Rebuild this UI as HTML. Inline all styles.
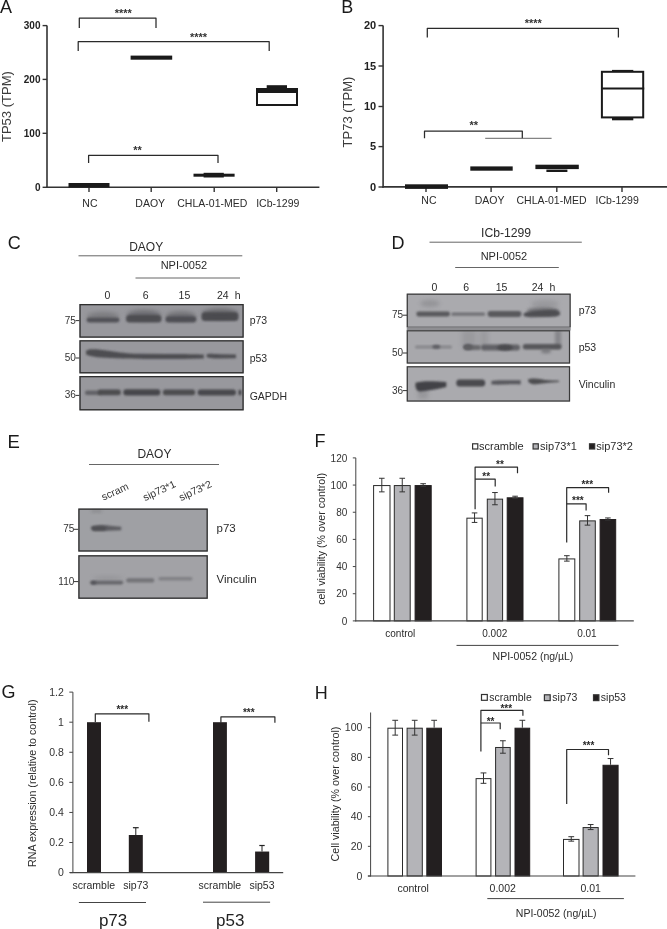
<!DOCTYPE html>
<html><head><meta charset="utf-8"><style>
html,body{margin:0;padding:0;background:#fff;}
body{width:667px;height:929px;overflow:hidden;}
svg{display:block;font-family:"Liberation Sans",sans-serif;will-change:transform;}
</style></head><body>
<svg width="667" height="929" viewBox="0 0 667 929">
<defs><filter id="b0p8" x="-50%" y="-50%" width="200%" height="200%"><feGaussianBlur stdDeviation="0.8"/></filter><filter id="b1p0" x="-50%" y="-50%" width="200%" height="200%"><feGaussianBlur stdDeviation="1.0"/></filter><filter id="b1p1" x="-50%" y="-50%" width="200%" height="200%"><feGaussianBlur stdDeviation="1.1"/></filter><filter id="b1p2" x="-50%" y="-50%" width="200%" height="200%"><feGaussianBlur stdDeviation="1.2"/></filter><filter id="b1p3" x="-50%" y="-50%" width="200%" height="200%"><feGaussianBlur stdDeviation="1.3"/></filter><filter id="b1p5" x="-50%" y="-50%" width="200%" height="200%"><feGaussianBlur stdDeviation="1.5"/></filter><filter id="b1p8" x="-50%" y="-50%" width="200%" height="200%"><feGaussianBlur stdDeviation="1.8"/></filter><filter id="b2" x="-50%" y="-50%" width="200%" height="200%"><feGaussianBlur stdDeviation="2"/></filter><filter id="b2p5" x="-50%" y="-50%" width="200%" height="200%"><feGaussianBlur stdDeviation="2.5"/></filter><filter id="b3" x="-50%" y="-50%" width="200%" height="200%"><feGaussianBlur stdDeviation="3"/></filter><clipPath id="cC1"><rect x="79.4" y="304" width="164.29999999999998" height="33.69999999999999"/></clipPath><clipPath id="cC2"><rect x="79.4" y="340.2" width="164.29999999999998" height="33.19999999999999"/></clipPath><clipPath id="cC3"><rect x="79.4" y="376" width="164.29999999999998" height="34.39999999999998"/></clipPath><clipPath id="cD1"><rect x="406.7" y="293.6" width="164.00000000000006" height="33.599999999999966"/></clipPath><clipPath id="cD2"><rect x="406.7" y="330.2" width="163.40000000000003" height="33.400000000000034"/></clipPath><clipPath id="cD3"><rect x="406.7" y="366.2" width="163.40000000000003" height="35.400000000000034"/></clipPath><clipPath id="cE1"><rect x="78.3" y="508.5" width="129.5" height="43.10000000000002"/></clipPath><clipPath id="cE2"><rect x="78.3" y="555.2" width="129.5" height="43.59999999999991"/></clipPath></defs>
<rect width="667" height="929" fill="#fff"/>
<text x="0" y="12.8" font-size="18" text-anchor="start" font-weight="normal" fill="#1a1a1a" >A</text>
<line x1="47" y1="25.6" x2="47" y2="188" stroke="#333" stroke-width="1.6"/>
<line x1="42.6" y1="25.6" x2="47" y2="25.6" stroke="#333" stroke-width="1.4"/>
<text x="40.5" y="29.200000000000003" font-size="10" text-anchor="end" font-weight="bold" fill="#222" >300</text>
<line x1="42.6" y1="79.4" x2="47" y2="79.4" stroke="#333" stroke-width="1.4"/>
<text x="40.5" y="83.0" font-size="10" text-anchor="end" font-weight="bold" fill="#222" >200</text>
<line x1="42.6" y1="133.3" x2="47" y2="133.3" stroke="#333" stroke-width="1.4"/>
<text x="40.5" y="136.9" font-size="10" text-anchor="end" font-weight="bold" fill="#222" >100</text>
<line x1="42.6" y1="187.3" x2="47" y2="187.3" stroke="#333" stroke-width="1.4"/>
<text x="40.5" y="190.9" font-size="10" text-anchor="end" font-weight="bold" fill="#222" >0</text>
<line x1="46.2" y1="187.3" x2="319.4" y2="187.3" stroke="#333" stroke-width="1.6"/>
<line x1="89" y1="187.3" x2="89" y2="192" stroke="#333" stroke-width="1.4"/>
<line x1="151.2" y1="187.3" x2="151.2" y2="192" stroke="#333" stroke-width="1.4"/>
<line x1="214.2" y1="187.3" x2="214.2" y2="192" stroke="#333" stroke-width="1.4"/>
<line x1="276.7" y1="187.3" x2="276.7" y2="192" stroke="#333" stroke-width="1.4"/>
<text x="89.95" y="206.7" font-size="10.5" text-anchor="middle" font-weight="normal" fill="#2b2b2b" >NC</text>
<text x="150.2" y="206.7" font-size="10.5" text-anchor="middle" font-weight="normal" fill="#2b2b2b" >DAOY</text>
<text x="212.3" y="206.7" font-size="10.5" text-anchor="middle" font-weight="normal" fill="#2b2b2b" >CHLA-01-MED</text>
<text x="277.8" y="206.7" font-size="10.5" text-anchor="middle" font-weight="normal" fill="#2b2b2b" >ICb-1299</text>
<rect x="68.5" y="183" width="41.0" height="4.5" fill="#1a1a1a" stroke="none" stroke-width="0" />
<rect x="130.6" y="55.6" width="41.599999999999994" height="4.100000000000001" fill="#1a1a1a" stroke="none" stroke-width="0" />
<rect x="193.5" y="173.7" width="41.099999999999994" height="3.0" fill="#1a1a1a" stroke="none" stroke-width="0" />
<rect x="203.6" y="172.8" width="20.200000000000017" height="4.699999999999989" fill="#1a1a1a" stroke="none" stroke-width="0" />
<rect x="266.7" y="85.2" width="20.30000000000001" height="3.299999999999997" fill="#1a1a1a" stroke="none" stroke-width="0" />
<rect x="257" y="89" width="40" height="16" fill="none" stroke="#1a1a1a" stroke-width="2" />
<rect x="256" y="88" width="42" height="5" fill="#1a1a1a" stroke="none" stroke-width="0" />
<path d="M79.3 28 L79.3 18.2 L156 18.2 L156 28" fill="none" stroke="#2a2a2a" stroke-width="1.25" stroke-linejoin="round"/>
<text x="123.3" y="17.28" font-size="11" text-anchor="middle" font-weight="bold" fill="#333" >****</text>
<path d="M78.2 51 L78.2 41.7 L269.2 41.7 L269.2 51" fill="none" stroke="#2a2a2a" stroke-width="1.25" stroke-linejoin="round"/>
<text x="198.5" y="40.88" font-size="11" text-anchor="middle" font-weight="bold" fill="#333" >****</text>
<path d="M88.6 163 L88.6 155.3 L218 155.3 L218 163" fill="none" stroke="#2a2a2a" stroke-width="1.25" stroke-linejoin="round"/>
<text x="137.5" y="154.48" font-size="11" text-anchor="middle" font-weight="bold" fill="#333" >**</text>
<text x="0" y="0" font-size="13" text-anchor="middle" fill="#3c3c3c" transform="translate(10.8,106.6) rotate(-90)">TP53 (TPM)</text>
<text x="341.2" y="12.8" font-size="18" text-anchor="start" font-weight="normal" fill="#1a1a1a" >B</text>
<line x1="383.1" y1="25.6" x2="383.1" y2="187.8" stroke="#333" stroke-width="1.6"/>
<line x1="378.5" y1="25.6" x2="383.1" y2="25.6" stroke="#333" stroke-width="1.4"/>
<text x="376.2" y="29.400000000000002" font-size="11" text-anchor="end" font-weight="bold" fill="#222" >20</text>
<line x1="378.5" y1="66" x2="383.1" y2="66" stroke="#333" stroke-width="1.4"/>
<text x="376.2" y="69.8" font-size="11" text-anchor="end" font-weight="bold" fill="#222" >15</text>
<line x1="378.5" y1="106.5" x2="383.1" y2="106.5" stroke="#333" stroke-width="1.4"/>
<text x="376.2" y="110.3" font-size="11" text-anchor="end" font-weight="bold" fill="#222" >10</text>
<line x1="378.5" y1="146.6" x2="383.1" y2="146.6" stroke="#333" stroke-width="1.4"/>
<text x="376.2" y="150.4" font-size="11" text-anchor="end" font-weight="bold" fill="#222" >5</text>
<line x1="378.5" y1="187" x2="383.1" y2="187" stroke="#333" stroke-width="1.4"/>
<text x="376.2" y="190.8" font-size="11" text-anchor="end" font-weight="bold" fill="#222" >0</text>
<line x1="382.3" y1="186.9" x2="667" y2="186.9" stroke="#333" stroke-width="1.6"/>
<line x1="426" y1="186.9" x2="426" y2="192" stroke="#333" stroke-width="1.4"/>
<line x1="491.1" y1="186.9" x2="491.1" y2="192" stroke="#333" stroke-width="1.4"/>
<line x1="556.8" y1="186.9" x2="556.8" y2="192" stroke="#333" stroke-width="1.4"/>
<line x1="622" y1="186.9" x2="622" y2="192" stroke="#333" stroke-width="1.4"/>
<text x="428.95" y="203.7" font-size="10.5" text-anchor="middle" font-weight="normal" fill="#2b2b2b" >NC</text>
<text x="489.65" y="203.7" font-size="10.5" text-anchor="middle" font-weight="normal" fill="#2b2b2b" >DAOY</text>
<text x="551.5" y="203.7" font-size="10.5" text-anchor="middle" font-weight="normal" fill="#2b2b2b" >CHLA-01-MED</text>
<text x="617.2" y="203.7" font-size="10.5" text-anchor="middle" font-weight="normal" fill="#2b2b2b" >ICb-1299</text>
<rect x="405" y="184.3" width="43" height="4.599999999999994" fill="#1a1a1a" stroke="none" stroke-width="0" />
<rect x="470.3" y="166.4" width="42.400000000000034" height="4.299999999999983" fill="#1a1a1a" stroke="none" stroke-width="0" />
<rect x="535.4" y="164.7" width="43.39999999999998" height="4.400000000000006" fill="#1a1a1a" stroke="none" stroke-width="0" />
<rect x="546.4" y="169.6" width="21.0" height="2.4000000000000057" fill="#1a1a1a" stroke="none" stroke-width="0" />
<rect x="601.9" y="71.8" width="41.30000000000007" height="45.60000000000001" fill="none" stroke="#1a1a1a" stroke-width="2" />
<line x1="601" y1="88.5" x2="644.2" y2="88.5" stroke="#1a1a1a" stroke-width="2"/>
<rect x="612" y="69.9" width="21.299999999999955" height="2.0999999999999943" fill="#1a1a1a" stroke="none" stroke-width="0" />
<rect x="612" y="118" width="21.299999999999955" height="2.299999999999997" fill="#1a1a1a" stroke="none" stroke-width="0" />
<path d="M427.3 37.6 L427.3 28.3 L618.4 28.3 L618.4 37.6" fill="none" stroke="#2a2a2a" stroke-width="1.25" stroke-linejoin="round"/>
<text x="533.2" y="26.78" font-size="11" text-anchor="middle" font-weight="bold" fill="#333" >****</text>
<path d="M424.5 138.3 L424.5 131.1 L522.3 131.1 L522.3 138.3" fill="none" stroke="#2a2a2a" stroke-width="1.25" stroke-linejoin="round"/>
<text x="473.8" y="129.38" font-size="11" text-anchor="middle" font-weight="bold" fill="#333" >**</text>
<line x1="485.2" y1="138.3" x2="551.6" y2="138.3" stroke="#555" stroke-width="0.9"/>
<text x="0" y="0" font-size="13" text-anchor="middle" fill="#3c3c3c" transform="translate(352.3,112) rotate(-90)">TP73 (TPM)</text>
<text x="7.8" y="249.3" font-size="18" text-anchor="start" font-weight="normal" fill="#1a1a1a" >C</text>
<text x="146.2" y="250.6" font-size="12" text-anchor="middle" font-weight="normal" fill="#2b2b2b" >DAOY</text>
<line x1="78.5" y1="255.8" x2="242.3" y2="255.8" stroke="#666" stroke-width="1"/>
<text x="183.9" y="269.1" font-size="11" text-anchor="middle" font-weight="normal" fill="#2b2b2b" >NPI-0052</text>
<line x1="135.5" y1="278" x2="240" y2="278" stroke="#666" stroke-width="1"/>
<text x="107.4" y="299" font-size="10.5" text-anchor="middle" font-weight="normal" fill="#2b2b2b" >0</text>
<text x="145.6" y="299" font-size="10.5" text-anchor="middle" font-weight="normal" fill="#2b2b2b" >6</text>
<text x="184.4" y="299" font-size="10.5" text-anchor="middle" font-weight="normal" fill="#2b2b2b" >15</text>
<text x="222.8" y="299" font-size="10.5" text-anchor="middle" font-weight="normal" fill="#2b2b2b" >24</text>
<text x="237.6" y="299" font-size="10.5" text-anchor="middle" font-weight="normal" fill="#2b2b2b" >h</text>
<rect x="79.4" y="304" width="164.29999999999998" height="33.69999999999999" fill="#98989d" stroke="none" stroke-width="0" />
<g clip-path="url(#cC1)">
<ellipse cx="103" cy="316" rx="16" ry="4" fill="#747478" opacity="0.8" filter="url(#b2)"/>
<rect x="86.5" y="317.6" width="33.0" height="4.7999999999999545" rx="2.5" fill="#505054" opacity="0.95" filter="url(#b1p2)"/>
<ellipse cx="144" cy="315" rx="17" ry="5" fill="#66666a" opacity="0.85" filter="url(#b2)"/>
<rect x="126" y="315" width="35.5" height="7.399999999999977" rx="3.5" fill="#4c4c50" opacity="0.95" filter="url(#b1p3)"/>
<ellipse cx="181" cy="316" rx="15" ry="4.5" fill="#6a6a6e" opacity="0.85" filter="url(#b2)"/>
<rect x="165.5" y="316.3" width="30.80000000000001" height="6.099999999999966" rx="3" fill="#4e4e52" opacity="0.95" filter="url(#b1p2)"/>
<ellipse cx="220" cy="313.5" rx="18" ry="5" fill="#626266" opacity="0.85" filter="url(#b2)"/>
<rect x="201.5" y="312.3" width="36.900000000000006" height="8.699999999999989" rx="3.5" fill="#4a4a4e" opacity="0.95" filter="url(#b1p3)"/>
</g>
<rect x="80.05000000000001" y="304.65" width="162.99999999999997" height="32.39999999999999" fill="none" stroke="#2e2e2e" stroke-width="1.3"/>
<rect x="79.4" y="340.2" width="164.29999999999998" height="33.19999999999999" fill="#98989d" stroke="none" stroke-width="0" />
<g clip-path="url(#cC2)">
<path d="M86 351 C88 348.5 96 349 110 351 C120 352.5 126 353.5 140 353.8 L170 354 C185 354 195 354.2 203.8 354.6 L203.8 358.4 C190 358.8 175 359 160 359 C140 359 120 358.6 105 357.8 C94 357 87 356 86 354 Z" fill="#4a4a4e" opacity="0.95" filter="url(#b1p0)"/>
<path d="M206.5 355 C207 353 212 353.8 220 354.2 L236 354.6 L236 358.3 L220 358.6 C212 358.6 207 358 206.5 356.5 Z" fill="#4c4c50" opacity="0.95" filter="url(#b1p0)"/>
</g>
<rect x="80.05000000000001" y="340.84999999999997" width="162.99999999999997" height="31.899999999999988" fill="none" stroke="#2e2e2e" stroke-width="1.3"/>
<rect x="79.4" y="376" width="164.29999999999998" height="34.39999999999998" fill="#98989d" stroke="none" stroke-width="0" />
<g clip-path="url(#cC3)">
<rect x="85" y="390.5" width="16" height="4.5" rx="2" fill="#5c5c60" opacity="0.9" filter="url(#b1p0)"/>
<rect x="98" y="389.6" width="22.799999999999997" height="5.699999999999989" rx="2.5" fill="#48484c" opacity="0.95" filter="url(#b1p0)"/>
<rect x="123.3" y="389.2" width="37.10000000000001" height="6.400000000000034" rx="3" fill="#424246" opacity="0.95" filter="url(#b1p0)"/>
<rect x="162.9" y="389.6" width="32.19999999999999" height="5.699999999999989" rx="2.5" fill="#48484c" opacity="0.95" filter="url(#b1p0)"/>
<rect x="197.6" y="389.4" width="38.400000000000006" height="6.0" rx="3" fill="#444448" opacity="0.95" filter="url(#b1p0)"/>
<ellipse cx="240" cy="392.5" rx="1.5" ry="3" fill="#38383c" opacity="0.9" filter="url(#b0p8)"/>
</g>
<rect x="80.05000000000001" y="376.65" width="162.99999999999997" height="33.09999999999998" fill="none" stroke="#2e2e2e" stroke-width="1.3"/>
<line x1="75.5" y1="320.6" x2="79.4" y2="320.6" stroke="#333" stroke-width="1"/>
<text x="75.8" y="323.6" font-size="10" text-anchor="end" font-weight="normal" fill="#333" >75</text>
<line x1="75.5" y1="358" x2="79.4" y2="358" stroke="#333" stroke-width="1"/>
<text x="75.8" y="361.0" font-size="10" text-anchor="end" font-weight="normal" fill="#333" >50</text>
<line x1="75.5" y1="395.4" x2="79.4" y2="395.4" stroke="#333" stroke-width="1"/>
<text x="75.8" y="398.4" font-size="10" text-anchor="end" font-weight="normal" fill="#333" >36</text>
<text x="249.7" y="324" font-size="10.5" text-anchor="start" font-weight="normal" fill="#2b2b2b" >p73</text>
<text x="249.7" y="362" font-size="10.5" text-anchor="start" font-weight="normal" fill="#2b2b2b" >p53</text>
<text x="249.7" y="400.3" font-size="10.5" text-anchor="start" font-weight="normal" fill="#2b2b2b" >GAPDH</text>
<text x="391.4" y="249.3" font-size="18" text-anchor="start" font-weight="normal" fill="#1a1a1a" >D</text>
<text x="506.1" y="236.5" font-size="12.2" text-anchor="middle" font-weight="normal" fill="#2b2b2b" >ICb-1299</text>
<line x1="429.5" y1="242.2" x2="581.8" y2="242.2" stroke="#666" stroke-width="1"/>
<text x="503.9" y="260.3" font-size="11" text-anchor="middle" font-weight="normal" fill="#2b2b2b" >NPI-0052</text>
<line x1="455.2" y1="267.5" x2="558.8" y2="267.5" stroke="#666" stroke-width="1"/>
<text x="434.3" y="291" font-size="10.5" text-anchor="middle" font-weight="normal" fill="#2b2b2b" >0</text>
<text x="466.2" y="291" font-size="10.5" text-anchor="middle" font-weight="normal" fill="#2b2b2b" >6</text>
<text x="501.5" y="291" font-size="10.5" text-anchor="middle" font-weight="normal" fill="#2b2b2b" >15</text>
<text x="537.5" y="291" font-size="10.5" text-anchor="middle" font-weight="normal" fill="#2b2b2b" >24</text>
<text x="552.4" y="291" font-size="10.5" text-anchor="middle" font-weight="normal" fill="#2b2b2b" >h</text>
<rect x="406.7" y="326.8" width="164.00000000000006" height="3.6999999999999886" fill="#8e8e92" stroke="none" stroke-width="0" />
<rect x="406.7" y="293.6" width="164.00000000000006" height="33.599999999999966" fill="#aaaaae" stroke="none" stroke-width="0" />
<g clip-path="url(#cD1)">
<ellipse cx="430" cy="303.5" rx="10" ry="3.5" fill="#8e8e92" opacity="0.8" filter="url(#b2)"/>
<ellipse cx="545" cy="304" rx="14" ry="4" fill="#929296" opacity="0.7" filter="url(#b2)"/>
<rect x="416.3" y="311.6" width="33.69999999999999" height="4.7999999999999545" rx="2.3" fill="#545458" opacity="0.95" filter="url(#b1p0)"/>
<rect x="451.3" y="312.6" width="33.80000000000001" height="3.099999999999966" rx="1.5" fill="#6a6a6e" opacity="0.9" filter="url(#b1p0)"/>
<rect x="487.6" y="311" width="33.799999999999955" height="5.899999999999977" rx="2.8" fill="#555559" opacity="0.95" filter="url(#b1p0)"/>
<ellipse cx="543" cy="310.5" rx="16" ry="3.5" fill="#6e6e72" opacity="0.8" filter="url(#b1p8)"/>
<path d="M523.5 314 C524 311.5 535 310.5 545 310 C553 309.5 559 310 560 312.5 C561 315.5 558 316.8 550 317 L530 317.2 C525 317 523 316 523.5 314 Z" fill="#4c4c50" opacity="0.95" filter="url(#b1p1)"/>
</g>
<rect x="407.3" y="294.20000000000005" width="162.80000000000007" height="32.39999999999996" fill="none" stroke="#3a3a3a" stroke-width="1.2"/>
<line x1="407.9" y1="326.6" x2="569.5" y2="326.6" stroke="#88888c" stroke-width="1.2"/>
<rect x="406.7" y="330.2" width="163.40000000000003" height="33.400000000000034" fill="#a8a8ac" stroke="none" stroke-width="0" />
<g clip-path="url(#cD2)">
<rect x="462" y="330" width="14" height="18" rx="2" fill="#949498" opacity="0.7" filter="url(#b2)"/>
<rect x="480" y="330" width="8" height="18" rx="2" fill="#929296" opacity="0.6" filter="url(#b2)"/>
<rect x="555" y="330" width="6" height="18" rx="2" fill="#7e7e82" opacity="0.8" filter="url(#b1p5)"/>
<rect x="415" y="345.5" width="37" height="3.0" rx="1.5" fill="#7e7e82" opacity="0.8" filter="url(#b1p0)"/>
<ellipse cx="436.3" cy="346.8" rx="4" ry="2" fill="#5a5a5e" opacity="0.9" filter="url(#b1p0)"/>
<ellipse cx="468" cy="347" rx="5" ry="3" fill="#525256" opacity="0.9" filter="url(#b1p2)"/>
<rect x="464" y="345" width="17" height="5" rx="2.5" fill="#606064" opacity="0.85" filter="url(#b1p1)"/>
<rect x="481" y="344.5" width="39" height="6.0" rx="3" fill="#5a5a5e" opacity="0.9" filter="url(#b1p1)"/>
<ellipse cx="505" cy="347.5" rx="8" ry="3" fill="#4a4a4e" opacity="0.95" filter="url(#b1p2)"/>
<rect x="522.7" y="344" width="38.799999999999955" height="5.5" rx="3" fill="#525256" opacity="0.95" filter="url(#b1p1)"/>
<ellipse cx="546" cy="351" rx="5" ry="2.5" fill="#6a6a6e" opacity="0.7" filter="url(#b1p5)"/>
</g>
<rect x="407.3" y="330.8" width="162.20000000000005" height="32.20000000000003" fill="none" stroke="#3a3a3a" stroke-width="1.2"/>
<rect x="406.7" y="366.2" width="163.40000000000003" height="35.400000000000034" fill="#aaaaae" stroke="none" stroke-width="0" />
<g clip-path="url(#cD3)">
<rect x="418" y="388" width="10" height="11" rx="3" fill="#8e8e92" opacity="0.7" filter="url(#b2)"/>
<path d="M415.5 383 C420 380.5 435 381 446.3 382 L446.3 387 C438 389 428 390.5 420 391.5 C416 391 415 387 415.5 383 Z" fill="#3e3e42" opacity="0.95" filter="url(#b1p1)"/>
<rect x="456.3" y="379.5" width="28.80000000000001" height="7.0" rx="3" fill="#444448" opacity="0.95" filter="url(#b1p1)"/>
<path d="M491.4 381 C500 380 510 380.5 520.7 380.3 L520.7 384.5 C510 384 500 385 491.4 384.5 Z" fill="#505054" opacity="0.9" filter="url(#b1p0)"/>
<path d="M528 379.5 C532 377.5 540 378.5 545 380 C550 380.5 556 380.5 559 380.8 L559 382 C552 382.5 545 383 538 384 C532 385 528 383.5 528 379.5 Z" fill="#48484c" opacity="0.95" filter="url(#b1p0)"/>
</g>
<rect x="407.3" y="366.8" width="162.20000000000005" height="34.20000000000003" fill="none" stroke="#3a3a3a" stroke-width="1.2"/>
<line x1="402.8" y1="315.2" x2="407" y2="315.2" stroke="#333" stroke-width="1"/>
<text x="403.1" y="318.2" font-size="10" text-anchor="end" font-weight="normal" fill="#333" >75</text>
<line x1="402.8" y1="353" x2="407" y2="353" stroke="#333" stroke-width="1"/>
<text x="403.1" y="356.0" font-size="10" text-anchor="end" font-weight="normal" fill="#333" >50</text>
<line x1="402.8" y1="390.6" x2="407" y2="390.6" stroke="#333" stroke-width="1"/>
<text x="403.1" y="393.6" font-size="10" text-anchor="end" font-weight="normal" fill="#333" >36</text>
<text x="578.7" y="313.5" font-size="10.5" text-anchor="start" font-weight="normal" fill="#2b2b2b" >p73</text>
<text x="578.7" y="351.3" font-size="10.5" text-anchor="start" font-weight="normal" fill="#2b2b2b" >p53</text>
<text x="578.7" y="388.2" font-size="10.5" text-anchor="start" font-weight="normal" fill="#2b2b2b" >Vinculin</text>
<text x="7.6" y="447.6" font-size="18.5" text-anchor="start" font-weight="normal" fill="#1a1a1a" >E</text>
<text x="154.4" y="457.6" font-size="12" text-anchor="middle" font-weight="normal" fill="#2b2b2b" >DAOY</text>
<line x1="89" y1="464.5" x2="219" y2="464.5" stroke="#666" stroke-width="1"/>
<text x="0" y="0" font-size="10.4" fill="#333" transform="translate(103.6,500.8) rotate(-25)">scram</text>
<text x="0" y="0" font-size="10.4" fill="#333" transform="translate(145,501.2) rotate(-25)">sip73*1</text>
<text x="0" y="0" font-size="10.4" fill="#333" transform="translate(181,501.2) rotate(-25)">sip73*2</text>
<rect x="78.3" y="508.5" width="129.5" height="43.10000000000002" fill="#9fa0a4" stroke="none" stroke-width="0" />
<g clip-path="url(#cE1)">
<rect x="91" y="509" width="11" height="4" rx="2" fill="#86868a" opacity="0.6" filter="url(#b1p5)"/>
<path d="M91 527 C93 525.5 98 525 103 525 C108 525.3 112 526.2 121.2 526.7 L121.2 530.3 C112 530.6 105 531 96 531.1 C92 531 91 529 91 527 Z" fill="#5a5a5e" opacity="0.95" filter="url(#b1p0)"/>
<rect x="91.5" y="526.2" width="14.5" height="4.599999999999909" rx="2.3" fill="#444448" opacity="0.55" filter="url(#b1p0)"/>
</g>
<rect x="78.95" y="509.15" width="128.2" height="41.800000000000026" fill="none" stroke="#2e2e2e" stroke-width="1.3"/>
<rect x="78.3" y="555.2" width="129.5" height="43.59999999999991" fill="#a2a2a6" stroke="none" stroke-width="0" />
<g clip-path="url(#cE2)">
<ellipse cx="108" cy="578.5" rx="15" ry="2.5" fill="#8e8e92" opacity="0.6" filter="url(#b2)"/>
<rect x="90.5" y="580.8" width="32.7" height="3.6000000000000227" rx="1.8" fill="#646468" opacity="0.95" filter="url(#b1p0)"/>
<rect x="90.5" y="581" width="6.0" height="3.3999999999999773" rx="1.8" fill="#4e4e52" opacity="0.75" filter="url(#b1p0)"/>
<rect x="126.2" y="578.3" width="28.10000000000001" height="4.100000000000023" rx="2.0" fill="#6e6e72" opacity="0.9" filter="url(#b1p0)"/>
<rect x="158.4" y="577" width="34.099999999999994" height="3.3999999999999773" rx="1.7" fill="#7e7e82" opacity="0.9" filter="url(#b1p1)"/>
</g>
<rect x="78.95" y="555.85" width="128.2" height="42.29999999999991" fill="none" stroke="#2e2e2e" stroke-width="1.3"/>
<line x1="74" y1="529.3" x2="78.3" y2="529.3" stroke="#333" stroke-width="1"/>
<text x="74.3" y="532.3" font-size="10" text-anchor="end" font-weight="normal" fill="#333" >75</text>
<line x1="74" y1="581.6" x2="78.3" y2="581.6" stroke="#333" stroke-width="1"/>
<text x="74.3" y="584.6" font-size="10" text-anchor="end" font-weight="normal" fill="#333" >110</text>
<text x="216.5" y="532.2" font-size="11.5" text-anchor="start" font-weight="normal" fill="#2b2b2b" >p73</text>
<text x="216.5" y="582.5" font-size="11.5" text-anchor="start" font-weight="normal" fill="#2b2b2b" >Vinculin</text>
<text x="314.6" y="446.9" font-size="18" text-anchor="start" font-weight="normal" fill="#1a1a1a" >F</text>
<line x1="355.8" y1="457.9" x2="355.8" y2="621.4" stroke="#444" stroke-width="1"/>
<line x1="352.8" y1="620.9" x2="355.8" y2="620.9" stroke="#444" stroke-width="1"/>
<text x="347.3" y="624.5" font-size="10" text-anchor="end" font-weight="normal" fill="#333" >0</text>
<line x1="352.8" y1="593.7339999999999" x2="355.8" y2="593.7339999999999" stroke="#444" stroke-width="1"/>
<text x="347.3" y="597.334" font-size="10" text-anchor="end" font-weight="normal" fill="#333" >20</text>
<line x1="352.8" y1="566.568" x2="355.8" y2="566.568" stroke="#444" stroke-width="1"/>
<text x="347.3" y="570.168" font-size="10" text-anchor="end" font-weight="normal" fill="#333" >40</text>
<line x1="352.8" y1="539.4019999999999" x2="355.8" y2="539.4019999999999" stroke="#444" stroke-width="1"/>
<text x="347.3" y="543.002" font-size="10" text-anchor="end" font-weight="normal" fill="#333" >60</text>
<line x1="352.8" y1="512.236" x2="355.8" y2="512.236" stroke="#444" stroke-width="1"/>
<text x="347.3" y="515.836" font-size="10" text-anchor="end" font-weight="normal" fill="#333" >80</text>
<line x1="352.8" y1="485.06999999999994" x2="355.8" y2="485.06999999999994" stroke="#444" stroke-width="1"/>
<text x="347.3" y="488.66999999999996" font-size="10" text-anchor="end" font-weight="normal" fill="#333" >100</text>
<line x1="352.8" y1="457.904" x2="355.8" y2="457.904" stroke="#444" stroke-width="1"/>
<text x="347.3" y="461.504" font-size="10" text-anchor="end" font-weight="normal" fill="#333" >120</text>
<rect x="373.6" y="485.56999999999994" width="16.399999999999977" height="135.33000000000004" fill="#ffffff" stroke="#2a2a2a" stroke-width="1"/>
<rect x="394.3" y="485.56999999999994" width="15.899999999999977" height="135.33000000000004" fill="#b4b4b8" stroke="#2a2a2a" stroke-width="1"/>
<rect x="415.1" y="485.56999999999994" width="16.099999999999966" height="135.33000000000004" fill="#231f20" stroke="#231f20" stroke-width="1"/>
<rect x="466.9" y="518.1691999999999" width="15.300000000000011" height="102.73080000000004" fill="#ffffff" stroke="#2a2a2a" stroke-width="1"/>
<rect x="487.3" y="499.15299999999996" width="15.300000000000011" height="121.74700000000001" fill="#b4b4b8" stroke="#2a2a2a" stroke-width="1"/>
<rect x="507.2" y="497.7947" width="15.800000000000011" height="123.1053" fill="#231f20" stroke="#231f20" stroke-width="1"/>
<rect x="558.9" y="558.9182" width="15.899999999999977" height="61.98180000000002" fill="#ffffff" stroke="#2a2a2a" stroke-width="1"/>
<rect x="579.7" y="520.8858" width="15.599999999999909" height="100.01419999999996" fill="#b4b4b8" stroke="#2a2a2a" stroke-width="1"/>
<rect x="600.1" y="519.5274999999999" width="15.600000000000023" height="101.37250000000006" fill="#231f20" stroke="#231f20" stroke-width="1"/>
<line x1="381.8" y1="478.2785" x2="381.8" y2="491.8615" stroke="#333" stroke-width="1"/>
<line x1="379.0" y1="478.2785" x2="384.6" y2="478.2785" stroke="#333" stroke-width="1"/>
<line x1="379.0" y1="491.8615" x2="384.6" y2="491.8615" stroke="#333" stroke-width="1"/>
<line x1="402.25" y1="478.2785" x2="402.25" y2="491.8615" stroke="#333" stroke-width="1"/>
<line x1="399.45" y1="478.2785" x2="405.05" y2="478.2785" stroke="#333" stroke-width="1"/>
<line x1="399.45" y1="491.8615" x2="405.05" y2="491.8615" stroke="#333" stroke-width="1"/>
<line x1="423.15" y1="483.71169999999995" x2="423.15" y2="486.4283" stroke="#333" stroke-width="1"/>
<line x1="420.34999999999997" y1="483.71169999999995" x2="425.95" y2="483.71169999999995" stroke="#333" stroke-width="1"/>
<line x1="420.34999999999997" y1="486.4283" x2="425.95" y2="486.4283" stroke="#333" stroke-width="1"/>
<line x1="474.54999999999995" y1="512.9151499999999" x2="474.54999999999995" y2="522.4232499999999" stroke="#333" stroke-width="1"/>
<line x1="471.74999999999994" y1="512.9151499999999" x2="477.34999999999997" y2="512.9151499999999" stroke="#333" stroke-width="1"/>
<line x1="471.74999999999994" y1="522.4232499999999" x2="477.34999999999997" y2="522.4232499999999" stroke="#333" stroke-width="1"/>
<line x1="494.95000000000005" y1="492.54064999999997" x2="494.95000000000005" y2="504.76534999999996" stroke="#333" stroke-width="1"/>
<line x1="492.15000000000003" y1="492.54064999999997" x2="497.75000000000006" y2="492.54064999999997" stroke="#333" stroke-width="1"/>
<line x1="492.15000000000003" y1="504.76534999999996" x2="497.75000000000006" y2="504.76534999999996" stroke="#333" stroke-width="1"/>
<line x1="515.1" y1="496.20806" x2="515.1" y2="498.38133999999997" stroke="#333" stroke-width="1"/>
<line x1="512.3000000000001" y1="496.20806" x2="517.9" y2="496.20806" stroke="#333" stroke-width="1"/>
<line x1="512.3000000000001" y1="498.38133999999997" x2="517.9" y2="498.38133999999997" stroke="#333" stroke-width="1"/>
<line x1="566.8499999999999" y1="555.7016" x2="566.8499999999999" y2="561.1347999999999" stroke="#333" stroke-width="1"/>
<line x1="564.05" y1="555.7016" x2="569.6499999999999" y2="555.7016" stroke="#333" stroke-width="1"/>
<line x1="564.05" y1="561.1347999999999" x2="569.6499999999999" y2="561.1347999999999" stroke="#333" stroke-width="1"/>
<line x1="587.5" y1="515.63175" x2="587.5" y2="525.13985" stroke="#333" stroke-width="1"/>
<line x1="584.7" y1="515.63175" x2="590.3" y2="515.63175" stroke="#333" stroke-width="1"/>
<line x1="584.7" y1="525.13985" x2="590.3" y2="525.13985" stroke="#333" stroke-width="1"/>
<line x1="607.9000000000001" y1="517.9408599999999" x2="607.9000000000001" y2="520.1141399999999" stroke="#333" stroke-width="1"/>
<line x1="605.1000000000001" y1="517.9408599999999" x2="610.7" y2="517.9408599999999" stroke="#333" stroke-width="1"/>
<line x1="605.1000000000001" y1="520.1141399999999" x2="610.7" y2="520.1141399999999" stroke="#333" stroke-width="1"/>
<line x1="355.3" y1="620.9" x2="633.8" y2="620.9" stroke="#444" stroke-width="1.2"/>
<text x="400.3" y="636.7" font-size="10" text-anchor="middle" font-weight="normal" fill="#2b2b2b" >control</text>
<text x="494.75" y="636.7" font-size="10" text-anchor="middle" font-weight="normal" fill="#2b2b2b" >0.002</text>
<text x="586.9" y="636.7" font-size="10" text-anchor="middle" font-weight="normal" fill="#2b2b2b" >0.01</text>
<line x1="456.5" y1="645.4" x2="618.5" y2="645.4" stroke="#444" stroke-width="1"/>
<text x="533" y="660.2" font-size="10.5" text-anchor="middle" font-weight="normal" fill="#2b2b2b" >NPI-0052 (ng/&#181;L)</text>
<rect x="472.6" y="443.8" width="5.199999999999977" height="5.200000000000034" fill="#ffffff" stroke="#333" stroke-width="1.2"/>
<text x="479.0" y="450.3" font-size="11" text-anchor="start" font-weight="normal" fill="#2b2b2b" >scramble</text>
<rect x="533.1" y="443.8" width="5.199999999999977" height="5.200000000000034" fill="#b4b4b8" stroke="#333" stroke-width="1.2"/>
<text x="540.1" y="450.3" font-size="11" text-anchor="start" font-weight="normal" fill="#2b2b2b" >sip73*1</text>
<rect x="589.5" y="443.8" width="5.199999999999977" height="5.200000000000034" fill="#231f20" stroke="#333" stroke-width="1.2"/>
<text x="596.3" y="450.3" font-size="11" text-anchor="start" font-weight="normal" fill="#2b2b2b" >sip73*2</text>
<path d="M475.1 509.2 L475.1 467.2 L517.5 467.2 L517.5 473.2" fill="none" stroke="#2a2a2a" stroke-width="1.2" stroke-linejoin="round"/>
<text x="499.9" y="468.36" font-size="10" text-anchor="middle" font-weight="bold" fill="#2a2a2a" >**</text>
<path d="M475.1 479.2 L475.1 479.2 L495.2 479.2 L495.2 486.4" fill="none" stroke="#2a2a2a" stroke-width="1.2" stroke-linejoin="round"/>
<text x="486.2" y="480.36" font-size="10" text-anchor="middle" font-weight="bold" fill="#2a2a2a" >**</text>
<path d="M566.7 542.6 L566.7 487.7 L608.6 487.7 L608.6 492.8" fill="none" stroke="#2a2a2a" stroke-width="1.2" stroke-linejoin="round"/>
<text x="587.3" y="488.26" font-size="10" text-anchor="middle" font-weight="bold" fill="#2a2a2a" >***</text>
<path d="M566.7 503.8 L566.7 503.8 L586.1 503.8 L586.1 510.4" fill="none" stroke="#2a2a2a" stroke-width="1.2" stroke-linejoin="round"/>
<text x="577.9" y="504.36" font-size="10" text-anchor="middle" font-weight="bold" fill="#2a2a2a" >***</text>
<text x="0" y="0" font-size="10.65" text-anchor="middle" fill="#2b2b2b" transform="translate(325.2,538.8) rotate(-90)">cell viability (% over control)</text>
<text x="1.4" y="698.2" font-size="18" text-anchor="start" font-weight="normal" fill="#1a1a1a" >G</text>
<line x1="72.9" y1="692.1" x2="72.9" y2="873" stroke="#444" stroke-width="1"/>
<line x1="69.3" y1="872.6" x2="72.9" y2="872.6" stroke="#444" stroke-width="1"/>
<text x="63.9" y="876.3000000000001" font-size="10.5" text-anchor="end" font-weight="normal" fill="#333" >0</text>
<line x1="69.3" y1="842.52" x2="72.9" y2="842.52" stroke="#444" stroke-width="1"/>
<text x="63.9" y="846.22" font-size="10.5" text-anchor="end" font-weight="normal" fill="#333" >0.2</text>
<line x1="69.3" y1="812.44" x2="72.9" y2="812.44" stroke="#444" stroke-width="1"/>
<text x="63.9" y="816.1400000000001" font-size="10.5" text-anchor="end" font-weight="normal" fill="#333" >0.4</text>
<line x1="69.3" y1="782.36" x2="72.9" y2="782.36" stroke="#444" stroke-width="1"/>
<text x="63.9" y="786.0600000000001" font-size="10.5" text-anchor="end" font-weight="normal" fill="#333" >0.6</text>
<line x1="69.3" y1="752.28" x2="72.9" y2="752.28" stroke="#444" stroke-width="1"/>
<text x="63.9" y="755.98" font-size="10.5" text-anchor="end" font-weight="normal" fill="#333" >0.8</text>
<line x1="69.3" y1="722.2" x2="72.9" y2="722.2" stroke="#444" stroke-width="1"/>
<text x="63.9" y="725.9000000000001" font-size="10.5" text-anchor="end" font-weight="normal" fill="#333" >1</text>
<line x1="69.3" y1="692.12" x2="72.9" y2="692.12" stroke="#444" stroke-width="1"/>
<text x="63.9" y="695.82" font-size="10.5" text-anchor="end" font-weight="normal" fill="#333" >1.2</text>
<rect x="87" y="722.2" width="14" height="150.39999999999998" fill="#231f20" stroke="none" stroke-width="0" />
<rect x="128.8" y="835.0" width="14.0" height="37.60000000000002" fill="#231f20" stroke="none" stroke-width="0" />
<rect x="213" y="722.2" width="13.900000000000006" height="150.39999999999998" fill="#231f20" stroke="none" stroke-width="0" />
<rect x="255.1" y="851.544" width="14.099999999999994" height="21.05600000000004" fill="#231f20" stroke="none" stroke-width="0" />
<line x1="135.8" y1="835.0" x2="135.8" y2="827.7" stroke="#222" stroke-width="1"/>
<line x1="132.9" y1="827.7" x2="138.7" y2="827.7" stroke="#222" stroke-width="1.2"/>
<line x1="262" y1="851.544" x2="262" y2="845.5" stroke="#222" stroke-width="1"/>
<line x1="259.3" y1="845.5" x2="264.7" y2="845.5" stroke="#222" stroke-width="1.2"/>
<line x1="69.9" y1="872.6" x2="283.2" y2="872.6" stroke="#444" stroke-width="1.3"/>
<text x="93.8" y="888.8" font-size="10.5" text-anchor="middle" font-weight="normal" fill="#2b2b2b" >scramble</text>
<text x="135.8" y="888.8" font-size="10.5" text-anchor="middle" font-weight="normal" fill="#2b2b2b" >sip73</text>
<text x="219.9" y="888.8" font-size="10.5" text-anchor="middle" font-weight="normal" fill="#2b2b2b" >scramble</text>
<text x="262" y="888.8" font-size="10.5" text-anchor="middle" font-weight="normal" fill="#2b2b2b" >sip53</text>
<line x1="78.9" y1="902.5" x2="146" y2="902.5" stroke="#444" stroke-width="1"/>
<line x1="203" y1="902.2" x2="270.1" y2="902.2" stroke="#444" stroke-width="1"/>
<text x="113.1" y="925.7" font-size="17" text-anchor="middle" font-weight="normal" fill="#222" >p73</text>
<text x="230.3" y="925.7" font-size="17" text-anchor="middle" font-weight="normal" fill="#222" >p53</text>
<path d="M95.3 722 L95.3 713.8 L148.9 713.8 L148.9 721.7" fill="none" stroke="#2a2a2a" stroke-width="1.2" stroke-linejoin="round"/>
<text x="122.3" y="713.26" font-size="10" text-anchor="middle" font-weight="bold" fill="#2a2a2a" >***</text>
<path d="M220.9 722.8 L220.9 716.9 L274.9 716.9 L274.9 722.8" fill="none" stroke="#2a2a2a" stroke-width="1.2" stroke-linejoin="round"/>
<text x="248.75" y="716.26" font-size="10" text-anchor="middle" font-weight="bold" fill="#2a2a2a" >***</text>
<text x="0" y="0" font-size="10.65" text-anchor="middle" fill="#2b2b2b" transform="translate(35.5,783.2) rotate(-90)">RNA expression (relative to control)</text>
<text x="314.7" y="698.5" font-size="18" text-anchor="start" font-weight="normal" fill="#1a1a1a" >H</text>
<line x1="370.6" y1="712.5" x2="370.6" y2="876.5" stroke="#444" stroke-width="1"/>
<line x1="367.9" y1="876.0" x2="370.6" y2="876.0" stroke="#444" stroke-width="1"/>
<text x="362.4" y="879.6" font-size="10.5" text-anchor="end" font-weight="normal" fill="#333" >0</text>
<line x1="367.9" y1="846.34" x2="370.6" y2="846.34" stroke="#444" stroke-width="1"/>
<text x="362.4" y="849.94" font-size="10.5" text-anchor="end" font-weight="normal" fill="#333" >20</text>
<line x1="367.9" y1="816.68" x2="370.6" y2="816.68" stroke="#444" stroke-width="1"/>
<text x="362.4" y="820.28" font-size="10.5" text-anchor="end" font-weight="normal" fill="#333" >40</text>
<line x1="367.9" y1="787.02" x2="370.6" y2="787.02" stroke="#444" stroke-width="1"/>
<text x="362.4" y="790.62" font-size="10.5" text-anchor="end" font-weight="normal" fill="#333" >60</text>
<line x1="367.9" y1="757.36" x2="370.6" y2="757.36" stroke="#444" stroke-width="1"/>
<text x="362.4" y="760.96" font-size="10.5" text-anchor="end" font-weight="normal" fill="#333" >80</text>
<line x1="367.9" y1="727.7" x2="370.6" y2="727.7" stroke="#444" stroke-width="1"/>
<text x="362.4" y="731.3000000000001" font-size="10.5" text-anchor="end" font-weight="normal" fill="#333" >100</text>
<rect x="387.9" y="728.2" width="14.600000000000023" height="147.79999999999995" fill="#ffffff" stroke="#2a2a2a" stroke-width="1"/>
<rect x="407.1" y="728.2" width="15.199999999999989" height="147.79999999999995" fill="#b4b4b8" stroke="#2a2a2a" stroke-width="1"/>
<rect x="426.8" y="728.2" width="14.699999999999989" height="147.79999999999995" fill="#231f20" stroke="#231f20" stroke-width="1"/>
<rect x="476.1" y="778.622" width="14.799999999999955" height="97.37800000000004" fill="#ffffff" stroke="#2a2a2a" stroke-width="1"/>
<rect x="495.6" y="747.479" width="14.599999999999966" height="128.52099999999996" fill="#b4b4b8" stroke="#2a2a2a" stroke-width="1"/>
<rect x="515.0" y="728.2" width="14.700000000000045" height="147.79999999999995" fill="#231f20" stroke="#231f20" stroke-width="1"/>
<rect x="563.5" y="839.425" width="15.5" height="36.575000000000045" fill="#ffffff" stroke="#2a2a2a" stroke-width="1"/>
<rect x="583.1" y="827.561" width="15.100000000000023" height="48.438999999999965" fill="#b4b4b8" stroke="#2a2a2a" stroke-width="1"/>
<rect x="603.0" y="765.275" width="15.100000000000023" height="110.72500000000002" fill="#231f20" stroke="#231f20" stroke-width="1"/>
<line x1="395.2" y1="720.285" x2="395.2" y2="735.115" stroke="#333" stroke-width="1"/>
<line x1="392.3" y1="720.285" x2="398.09999999999997" y2="720.285" stroke="#333" stroke-width="1"/>
<line x1="392.3" y1="735.115" x2="398.09999999999997" y2="735.115" stroke="#333" stroke-width="1"/>
<line x1="414.70000000000005" y1="720.285" x2="414.70000000000005" y2="735.115" stroke="#333" stroke-width="1"/>
<line x1="411.80000000000007" y1="720.285" x2="417.6" y2="720.285" stroke="#333" stroke-width="1"/>
<line x1="411.80000000000007" y1="735.115" x2="417.6" y2="735.115" stroke="#333" stroke-width="1"/>
<line x1="434.15" y1="720.285" x2="434.15" y2="727.7" stroke="#333" stroke-width="1"/>
<line x1="431.25" y1="720.285" x2="437.04999999999995" y2="720.285" stroke="#333" stroke-width="1"/>
<line x1="483.5" y1="772.9315" x2="483.5" y2="783.3125" stroke="#333" stroke-width="1"/>
<line x1="480.6" y1="772.9315" x2="486.4" y2="772.9315" stroke="#333" stroke-width="1"/>
<line x1="480.6" y1="783.3125" x2="486.4" y2="783.3125" stroke="#333" stroke-width="1"/>
<line x1="502.9" y1="740.7504" x2="502.9" y2="753.2076" stroke="#333" stroke-width="1"/>
<line x1="500.0" y1="740.7504" x2="505.79999999999995" y2="740.7504" stroke="#333" stroke-width="1"/>
<line x1="500.0" y1="753.2076" x2="505.79999999999995" y2="753.2076" stroke="#333" stroke-width="1"/>
<line x1="522.35" y1="720.285" x2="522.35" y2="727.7" stroke="#333" stroke-width="1"/>
<line x1="519.45" y1="720.285" x2="525.25" y2="720.285" stroke="#333" stroke-width="1"/>
<line x1="571.25" y1="836.7005" x2="571.25" y2="841.1495" stroke="#333" stroke-width="1"/>
<line x1="568.35" y1="836.7005" x2="574.15" y2="836.7005" stroke="#333" stroke-width="1"/>
<line x1="568.35" y1="841.1495" x2="574.15" y2="841.1495" stroke="#333" stroke-width="1"/>
<line x1="590.6500000000001" y1="824.5399" x2="590.6500000000001" y2="829.5821" stroke="#333" stroke-width="1"/>
<line x1="587.7500000000001" y1="824.5399" x2="593.5500000000001" y2="824.5399" stroke="#333" stroke-width="1"/>
<line x1="587.7500000000001" y1="829.5821" x2="593.5500000000001" y2="829.5821" stroke="#333" stroke-width="1"/>
<line x1="610.55" y1="758.5464" x2="610.55" y2="764.775" stroke="#333" stroke-width="1"/>
<line x1="607.65" y1="758.5464" x2="613.4499999999999" y2="758.5464" stroke="#333" stroke-width="1"/>
<line x1="367.9" y1="876" x2="635.4" y2="876" stroke="#444" stroke-width="1.2"/>
<text x="413.2" y="892.3" font-size="10.5" text-anchor="middle" font-weight="normal" fill="#2b2b2b" >control</text>
<text x="502.7" y="892.3" font-size="10.5" text-anchor="middle" font-weight="normal" fill="#2b2b2b" >0.002</text>
<text x="590.6" y="892.3" font-size="10.5" text-anchor="middle" font-weight="normal" fill="#2b2b2b" >0.01</text>
<line x1="487.3" y1="898.6" x2="623.9" y2="898.6" stroke="#444" stroke-width="1"/>
<text x="556.2" y="917.3" font-size="10.5" text-anchor="middle" font-weight="normal" fill="#2b2b2b" >NPI-0052 (ng/&#181;L)</text>
<rect x="481.5" y="694.5" width="5.8" height="5.8" fill="#ffffff" stroke="#333" stroke-width="1.2"/>
<text x="489.2" y="701.1" font-size="10.5" text-anchor="start" font-weight="normal" fill="#2b2b2b" >scramble</text>
<rect x="544.4" y="694.8000000000001" width="5.8" height="5.8" fill="#b4b4b8" stroke="#333" stroke-width="1.2"/>
<text x="552.3" y="701.1" font-size="10.5" text-anchor="start" font-weight="normal" fill="#2b2b2b" >sip73</text>
<rect x="593.5" y="694.8000000000001" width="5.400000000000023" height="5.8" fill="#231f20" stroke="#333" stroke-width="1.2"/>
<text x="600.8" y="701.1" font-size="10.5" text-anchor="start" font-weight="normal" fill="#2b2b2b" >sip53</text>
<path d="M480.9 751.4 L480.9 710.4 L522.9 710.4 L522.9 715.7" fill="none" stroke="#2a2a2a" stroke-width="1.2" stroke-linejoin="round"/>
<text x="506.3" y="711.96" font-size="10" text-anchor="middle" font-weight="bold" fill="#2a2a2a" >***</text>
<path d="M480.9 723 L480.9 723 L500.2 723 L500.2 729.3" fill="none" stroke="#2a2a2a" stroke-width="1.2" stroke-linejoin="round"/>
<text x="490.6" y="724.56" font-size="10" text-anchor="middle" font-weight="bold" fill="#2a2a2a" >**</text>
<path d="M566.7 804 L566.7 749.5 L608.5 749.5 L608.5 755.2" fill="none" stroke="#2a2a2a" stroke-width="1.2" stroke-linejoin="round"/>
<text x="588.5" y="749.06" font-size="10" text-anchor="middle" font-weight="bold" fill="#2a2a2a" >***</text>
<text x="0" y="0" font-size="10.7" text-anchor="middle" fill="#2b2b2b" transform="translate(339.2,794) rotate(-90)">Cell viability (% over control)</text>
</svg>
</body></html>
